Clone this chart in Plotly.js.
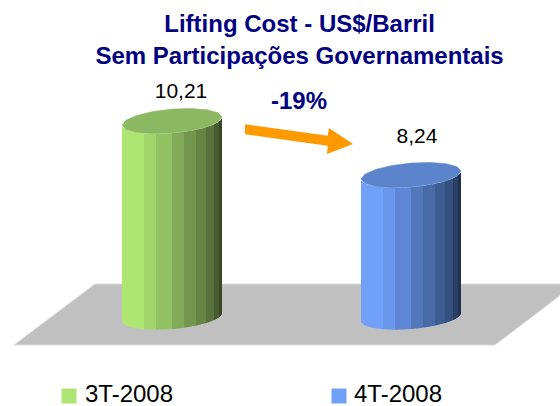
<!DOCTYPE html>
<html><head><meta charset="utf-8">
<script src="https://cdn.plot.ly/plotly-3.0.1.min.js"></script>
<style>html,body{margin:0;padding:0;background:#fff}#c{width:560px;height:406px}</style></head>
<body><div id="c"></div>
<script>
const categories = ['3T-2008','4T-2008'];
const values = [10.21,8.24];
const valueLabels = ['10,21','8,24'];
const titleLines = ['Lifting Cost - US$/Barril','Sem Participações Governamentais'];
const changeLabel = '-19%';

const FONT = '"Liberation Sans", Arial, sans-serif';
const NAVY = '#000080';
const axisBase = 3.06, unitPx = 27.4;           // y axis start and pixels per unit
const yRange = [axisBase-89/unitPx, axisBase+317/unitPx];
const lefts = [122,361], W = 100, RX = 50, RY = 12, SKEW = 4;
const facetEdges = [0,22,34,50,62,74,84,92,97,100];
const palettes = [
 ['#aee573','#a2d66c','#93c263','#82aa58','#73964e','#668545','#58723c','#475c30','#394926'],
 ['#70a0f8','#6897ec','#5d87d6','#5277ba','#486aa6','#3f5d92','#34507e','#2a4066','#1f3050']];
const capColors = ['#8db863','#5b84cc'];
const swatchColors = ['#aee573','#70a0f8'];
const swatchX = [69,339];
const textX = [85,354];
const py = p => axisBase+(317-p)/unitPx;   // pixel row to axis value, for decoration only
const pathOf = pts => 'M '+pts.map(p=>p[0]+' '+py(p[1])).join(' L ')+' Z';
const floorPts = [[95,284],[575,284],[495,345],[14,345]];
const arrowPts = [[245,124.3],[327.7,135.7],[329,128],[353,144],[327,154],[327.7,145.7],[245,134.3]];

function front(dx){ const c=dx/RX; return RY*Math.sqrt(Math.max(0,1-c*c)) - SKEW*c; }
const traces=[];

categories.forEach((cat,i)=>{
  const xs=[],tops=[],bases=[],cols=[];
  for(let k=0;k<W;k++){
    const dx=k+0.5-W/2, off=front(dx)/unitPx;
    xs.push(lefts[i]+k+0.5);
    bases.push(axisBase-off);
    tops.push(values[i]-axisBase);
    let f=0; while(f<facetEdges.length-2 && k>=facetEdges[f+1]) f++;
    cols.push(palettes[i][f]);
  }
  traces.push({type:'bar',name:cat,x:xs,y:tops,base:bases,width:1,
    marker:{color:cols,line:{width:0}},
    hoverinfo:'skip',showlegend:false});
  const capX=[],capY=[],n=16,cx=lefts[i]+W/2;
  for(let j=0;j<=n;j++){const t=2*Math.PI*j/n,c=Math.cos(t);
    capX.push(cx+RX*c);
    capY.push(values[i]-(RY*Math.sin(t)-SKEW*c)/unitPx);}
  traces.push({type:'scatter',mode:'lines',x:capX,y:capY,fill:'toself',fillcolor:capColors[i],
    line:{color:capColors[i],width:0.5},hoverinfo:'skip',showlegend:false});
  traces.push({type:'scatter',mode:'text',x:[cx+9-(i?1:0)*3],y:[values[i]+(i?37:28)/unitPx],text:[valueLabels[i]],
    textposition:'middle center',textfont:{family:FONT,size:21,color:'#000'},hoverinfo:'skip',showlegend:false});
  traces.push({type:'scatter',mode:'markers',x:[swatchX[i]],y:[py(396)],
    marker:{symbol:'square',size:15,color:swatchColors[i],line:{width:0}},
    hoverinfo:'skip',showlegend:false});
  traces.push({type:'scatter',mode:'text',x:[textX[i]],y:[py(396)],text:[cat],
    textposition:'middle right',textfont:{family:FONT,size:24,color:'#000'},hoverinfo:'skip',showlegend:false,cliponaxis:false});
});

Plotly.newPlot('c',traces,{
  width:560,height:406,margin:{l:0,r:0,t:0,b:0},
  paper_bgcolor:'#fff',plot_bgcolor:'#fff',barmode:'overlay',showlegend:false,
  title:{text:titleLines.join('<br>'),x:0.535,xanchor:'center',y:0.92,yanchor:'top',
    font:{family:FONT,size:24,color:NAVY,weight:700}},
  xaxis:{range:[0,560],visible:false,fixedrange:true},
  yaxis:{range:yRange,visible:false,fixedrange:true},
  shapes:[
   {type:'path',xref:'x',yref:'y',layer:'below',path:pathOf(floorPts),fillcolor:'#c0c0c0',line:{color:'#dcdcdc',width:1}},
   {type:'path',xref:'x',yref:'y',layer:'above',path:pathOf(arrowPts),fillcolor:'#ff9900',line:{width:0}}
  ],
  annotations:[
   {xref:'x',yref:'y',x:298.5,y:py(100),text:'<b>'+changeLabel+'</b>',showarrow:false,
    font:{family:FONT,size:24,color:NAVY}}
  ]
},{staticPlot:true,displayModeBar:false});
</script></body></html>
